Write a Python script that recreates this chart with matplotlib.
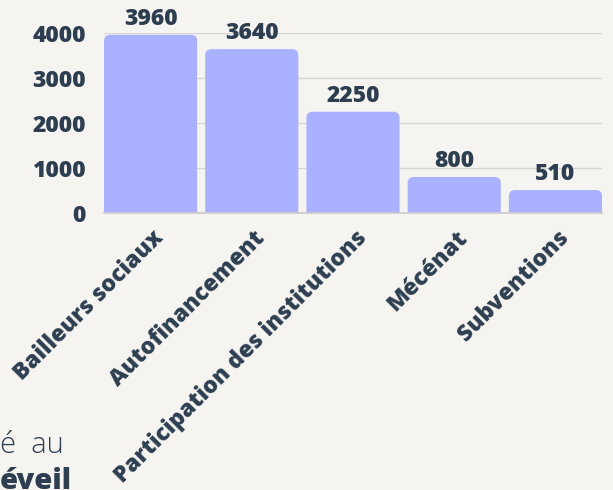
import matplotlib.pyplot as plt
from matplotlib.patches import FancyBboxPatch
from matplotlib import transforms

categories = ["Bailleurs sociaux", "Autofinancement", "Participation des institutions",
              "Mécénat", "Subventions"]
values = [3960, 3640, 2250, 800, 510]
yticks = [0, 1000, 2000, 3000, 4000]

bg = "#f5f4f0"
bar_color = "#aab2ff"
text_color = "#2c3e50"

plt.rcParams['font.family'] = ['Open Sans', 'DejaVu Sans']

fig = plt.figure(figsize=(6.13, 4.90), dpi=100, facecolor=bg)
ax = fig.add_axes([104 / 613, 1 - 213 / 490, 498 / 613, 180 / 490])
ax.set_facecolor(bg)

width = 0.92
ax.set_xlim(-width / 2, len(values) - 1 + width / 2)
ax.set_ylim(0, 4000)

fs = 16.5
for i, v in enumerate(values):
    # rounded top, flat bottom (lower part clipped by the axes)
    patch = FancyBboxPatch((i - width / 2, -400), width, v + 400,
                           boxstyle="round,pad=0,rounding_size=0.06",
                           mutation_aspect=2200,
                           facecolor=bar_color, edgecolor="none", zorder=2)
    ax.add_patch(patch)
    ax.annotate(str(v), (i, v), xytext=(0, 3), textcoords="offset points",
                ha="center", va="bottom", fontsize=fs, fontweight="heavy",
                color=text_color, annotation_clip=False)

ax.set_yticks(yticks)
ax.set_yticklabels([str(t) for t in yticks], fontsize=fs, fontweight="heavy",
                   color=text_color)
ax.grid(axis="y", color="#d6d6d6", linewidth=1, zorder=0)
ax.tick_params(axis="y", length=0, pad=13)
ax.tick_params(axis="x", length=0, pad=4)

ax.set_xticks(range(len(categories)))
ax.set_xticklabels(categories, rotation=45, ha="right", va="center",
                   rotation_mode="anchor", fontsize=fs, fontweight="heavy",
                   color=text_color)
offset = transforms.ScaledTranslation(10 / 100, -16 / 100, fig.dpi_scale_trans)
for lbl in ax.get_xticklabels():
    lbl.set_transform(lbl.get_transform() + offset)

for side in ["top", "left", "right"]:
    ax.spines[side].set_visible(False)
ax.spines["bottom"].set_color("#cccccc")
ax.spines["bottom"].set_linewidth(1.2)

# page text fragments visible at the lower left edge
fig.text(0.0, 1 - 445 / 490, "é  au", fontsize=21, fontweight="light",
         color=text_color, va="center", ha="left")
fig.text(0.0, 1 - 489 / 490, "éveil", fontsize=21, fontweight="heavy",
         color=text_color, va="baseline", ha="left")

fig.savefig("out.png", dpi=100, facecolor=bg)
